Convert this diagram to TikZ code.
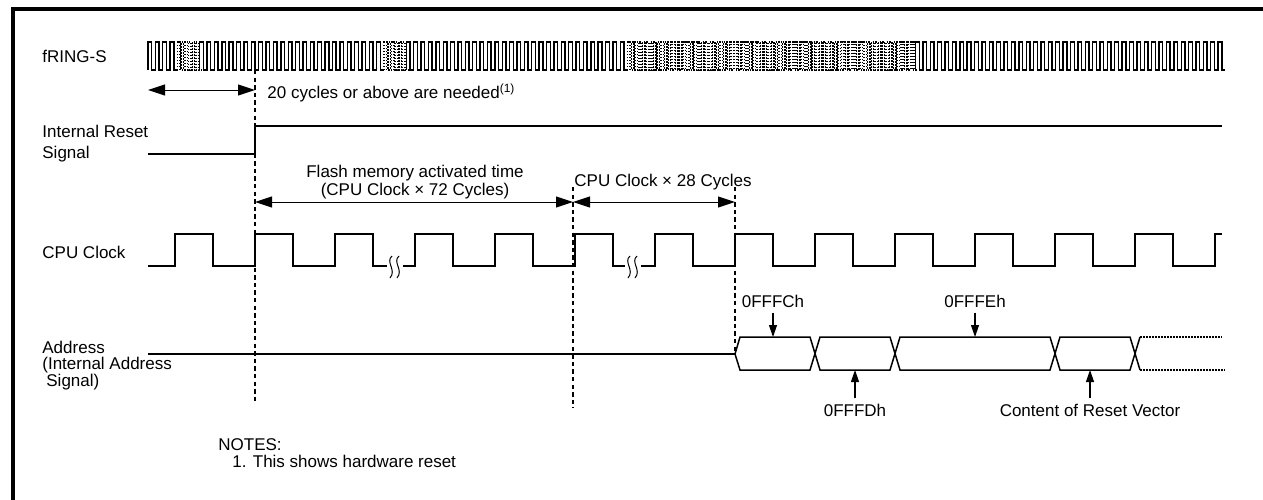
\documentclass[tikz,border=0pt]{standalone}
\usepackage{fontspec}
\setmainfont{Liberation Sans}
\usetikzlibrary{arrows.meta}
\tikzstyle{sigtext}=[inner sep=0pt, font=\fontsize{8.5}{10}\selectfont]
\tikzstyle{sigline}=[line width=0.75pt]
\tikzstyle{ringline}=[line width=0.7pt]
\tikzstyle{ringdots}=[line width=0.75pt, dash pattern=on 0.75pt off 0.75pt]
\tikzstyle{guide}=[line width=0.9pt, dash pattern=on 2.2pt off 1.6pt]
\tikzstyle{dimarrow}=[line width=0.5pt, {Triangle[length=8.5pt,width=5.5pt]}-{Triangle[length=8.5pt,width=5.5pt]}]
\tikzstyle{ptr}=[line width=0.6pt, -{Triangle[length=6pt,width=4pt]}]
\tikzstyle{buslabel}=[sigtext, inner sep=2.5pt, anchor=base]
\newcommand{\ringstep}{7.38}

\begin{document}
\begin{tikzpicture}[x=0.5pt,y=-0.5pt]
  \useasboundingbox (0,0) rectangle (1263,499);
  \draw[line width=1.8pt] (13,520) -- (13,9) -- (1280,9);

  %% Signal names
  \node[sigtext,anchor=base west] (ringname) at (42,62) {fRING-S};
  \node[sigtext,anchor=base west] (rstname) at (42,137) {Internal Reset};
  \node[sigtext,anchor=base west] (rstname2) at (42,158) {Signal};
  \node[sigtext,anchor=base west] (cpuname) at (42,258) {CPU Clock};
  \node[sigtext,anchor=base west] (adrname) at (42,353) {Address};
  \node[sigtext,anchor=base west] (adrname2) at (42,369.5) {(Internal Address};
  \node[sigtext,anchor=base west] (adrname3) at (46,386) {Signal)};

  %% fRING-S
  \foreach \a/\b/\s in {0/3/ringline,4/6/ringdots,7/31/ringline,32/34/ringdots,35/64/ringline,65/103/ringdots,104/145/ringline}
    \draw[\s] ({148+\ringstep*\a},70) \foreach \i in {\a,...,\b} { -- ({148+\ringstep*\i},42) -- ({148+\ringstep*\i+3.69},42) -- ({148+\ringstep*\i+3.69},70) -- ({148+\ringstep*(\i+1)},70) };
  \foreach \a/\b in {4/6,32/34,65/103}
    \draw[ringdots,xshift=1.2pt] ({148+\ringstep*\a},70) \foreach \i in {\a,...,\b} { -- ({148+\ringstep*\i},42) -- ({148+\ringstep*\i+3.69},42) -- ({148+\ringstep*\i+3.69},70) -- ({148+\ringstep*(\i+1)},70) };

  %% Internal reset
  \draw[sigline] (148,154) -- (255,154) -- (255,126) -- (1222,126);

  %% CPU clock
  \draw[sigline] (148,266) \foreach \k in {0,1,2} { -- ({175+80*\k},266) -- ({175+80*\k},234) -- ({213+80*\k},234) -- ({213+80*\k},266) } -- (387,266);
  \draw[sigline] (403,266) \foreach \k in {3,4,5} { -- ({175+80*\k},266) -- ({175+80*\k},234) -- ({213+80*\k},234) -- ({213+80*\k},266) } -- (625,266);
  \draw[sigline] (641,266) \foreach \k in {6,...,12} { -- ({175+80*\k},266) -- ({175+80*\k},234) -- ({213+80*\k},234) -- ({213+80*\k},266) } -- (1215,266) -- (1215,234) -- (1222,234);
  \foreach \x in {391,398,629,636}
    \draw[line width=0.5pt] (\x+1,256) .. controls (\x-6,262) and (\x+6,270) .. (\x-1,278);

  %% Address bus
  \draw[sigline] (148,354) -- (735,354);
  \draw[sigline] (735,354) -- (740,337) -- (810,337) -- (820,370) -- (890,370) -- (900,337) -- (1050,337) -- (1060,370) -- (1130,370) -- (1140,337);
  \draw[sigline] (735,354) -- (740,370) -- (810,370) -- (820,337) -- (890,337) -- (900,370) -- (1050,370) -- (1060,337) -- (1130,337) -- (1140,370);
  \draw[ringdots,line width=0.8pt] (1140,337) -- (1222,337);
  \draw[ringdots,line width=0.8pt] (1140,370) -- (1225,370);

  %% Timing marks
  \draw[guide] (255,70) -- (255,403);
  \draw[guide] (573,187) -- (573,408);
  \draw[guide] (735,187) -- (735,354);

  \coordinate (c0) at (148,90);
  \coordinate (c1) at (255,90);
  \coordinate (f0) at (255,202);
  \coordinate (f1) at (573,202);
  \coordinate (f2) at (735,202);
  \draw[dimarrow] (c0) -- (c1);
  \draw[dimarrow] (f0) -- (f1);
  \draw[dimarrow] (f1) -- (f2);
  \node[sigtext,anchor=base west] (cyctxt) at (267,98) {20 cycles or above are needed\textsuperscript{(1)}};
  \node[sigtext,anchor=base] (flashtxt) at (415,177) {Flash memory activated time};
  \node[sigtext,anchor=base] (flashtxt2) at (415,195) {(CPU Clock × 72 Cycles)};
  \node[sigtext,anchor=base west] (cputxt) at (574,186) {CPU Clock × 28 Cycles};

  %% Bus contents
  \node[buslabel] (adrC) at (773,307) {0FFFCh};
  \node[buslabel] (adrE) at (975,307) {0FFFEh};
  \node[buslabel] (adrD) at (855,416) {0FFFDh};
  \node[buslabel] (vec) at (1090,416) {Content of Reset Vector};
  \coordinate (pC) at (773,337);
  \coordinate (pE) at (975,337);
  \coordinate (pD) at (855,370);
  \coordinate (pV) at (1090,370);
  \draw[ptr] (adrC) -- (pC);
  \draw[ptr] (adrE) -- (pE);
  \draw[ptr] (adrD) -- (pD);
  \draw[ptr] (vec.north -| pV) -- (pV);

  %% Notes
  \node[sigtext,anchor=base west] (notes) at (218,450) {NOTES:};
  \node[sigtext,anchor=base west] (note1) at (232,467) {1. This shows hardware reset};
\end{tikzpicture}
\end{document}
